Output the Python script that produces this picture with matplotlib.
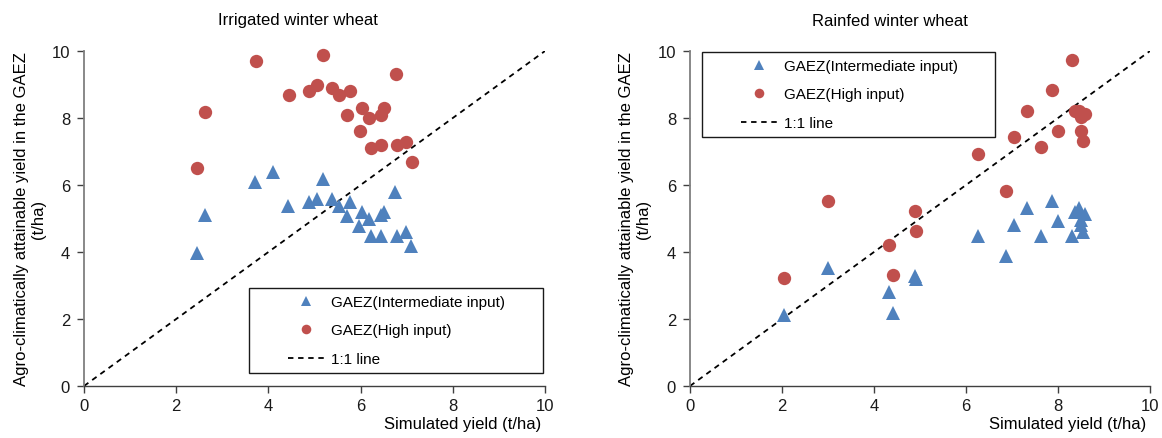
import matplotlib
matplotlib.use('Agg')
import matplotlib.pyplot as plt
from matplotlib.lines import Line2D
from matplotlib.legend_handler import HandlerLine2D

plt.rcParams['font.family'] = ['Liberation Sans', 'DejaVu Sans']

# ---------------- data ----------------
titles = ["Irrigated winter wheat", "Rainfed winter wheat"]
xlabel = "Simulated yield (t/ha)"
ylabel = "Agro-climatically attainable yield in the GAEZ\n(t/ha)"
legend_labels = ["GAEZ(Intermediate input)", "GAEZ(High input)", "1:1 line"]
ticks = [0, 2, 4, 6, 8, 10]

irr_sim_int = [2.46, 2.62, 3.72, 4.11, 4.43, 4.89, 5.05, 5.18, 5.39, 5.54, 5.76, 5.71,
               6.04, 6.19, 5.97, 6.51, 6.45, 6.22, 6.45, 6.75, 6.80, 6.99, 7.09]
irr_gaez_int = [3.98, 5.10, 6.08, 6.38, 5.38, 5.50, 5.58, 6.18, 5.58, 5.38, 5.50, 5.08,
                5.18, 4.99, 4.79, 5.18, 5.10, 4.47, 4.47, 5.80, 4.47, 4.61, 4.19]
irr_sim_high = [2.46, 2.63, 3.73, 4.45, 4.89, 5.05, 5.19, 5.39, 5.54, 5.76, 5.71,
                6.04, 6.19, 6.51, 6.45, 5.99, 6.22, 6.45, 6.77, 6.80, 6.99, 7.11]
irr_gaez_high = [6.50, 8.19, 9.69, 8.69, 8.80, 8.99, 9.89, 8.89, 8.69, 8.80, 8.10,
                 8.30, 7.99, 8.30, 8.09, 7.60, 7.10, 7.19, 9.31, 7.19, 7.29, 6.70]

rf_sim_int = [2.05, 3.00, 4.33, 4.41, 4.89, 4.92, 6.25, 6.86, 7.05, 7.32, 7.63, 7.88,
              7.99, 8.31, 8.37, 8.45, 8.51, 8.59, 8.51, 8.55]
rf_gaez_int = [2.12, 3.52, 2.80, 2.17, 3.28, 3.20, 4.49, 3.89, 4.82, 5.32, 4.49, 5.52,
               4.92, 4.49, 5.20, 5.30, 4.80, 5.12, 4.95, 4.60]
rf_sim_high = [2.05, 3.00, 4.33, 4.41, 4.89, 4.92, 6.25, 6.86, 7.05, 7.32, 7.63, 7.88,
               7.99, 8.31, 8.37, 8.45, 8.51, 8.59, 8.51, 8.55]
rf_gaez_high = [3.22, 5.52, 4.22, 3.30, 5.22, 4.62, 6.92, 5.83, 7.42, 8.22, 7.13, 8.84,
                7.62, 9.72, 8.22, 8.20, 8.02, 8.12, 7.62, 7.32]

one_to_one = [0, 10]

BLUE = '#4F81BD'
RED = '#C0504D'


class RightAlignedHandler(HandlerLine2D):
    def get_xdata(self, legend, xdescent, ydescent, width, height, fontsize):
        x1 = -xdescent + width
        x0 = x1 - 2.4 * fontsize
        return [x0, x1], [0.5 * (x0 + x1)]


fig = plt.figure(figsize=(11.62, 4.39), dpi=100)
ax_l = fig.add_axes([84/1162, 52/439, 461/1162, 335/439])
ax_r = fig.add_axes([690/1162, 52/439, 460/1162, 335/439])

panels = [
    (ax_l, irr_sim_int, irr_gaez_int, irr_sim_high, irr_gaez_high,
     (249/1162, 1 - 289/439, 294/1162), 298/1162, 30/1162, 541/1162),
    (ax_r, rf_sim_int, rf_gaez_int, rf_sim_high, rf_gaez_high,
     (702/1162, 1 - 53/439, 293/1162), 890/1162, 635/1162, 1146/1162),
]

for i, (ax, xi, yi, xh, yh, leg_pos, tx, ylx, xlx) in enumerate(panels):
    h_int, = ax.plot(xi, yi, linestyle='none', marker='^', markersize=9.6,
                     color=BLUE, markeredgewidth=0, clip_on=False, zorder=3)
    h_high, = ax.plot(xh, yh, linestyle='none', marker='o', markersize=9.6,
                      color=RED, markeredgewidth=0, clip_on=False, zorder=3)
    h_line, = ax.plot(one_to_one, one_to_one, color='black', linewidth=1.3,
                      linestyle=(0, (3.0, 2.6)), zorder=2)

    ax.set_xlim(0, 10)
    ax.set_ylim(0, 10)
    ax.set_xticks(ticks)
    ax.set_yticks(ticks)
    ax.spines['top'].set_visible(False)
    ax.spines['right'].set_visible(False)
    ax.spines['left'].set_color('#7f7f7f')
    ax.spines['left'].set_linewidth(1.3)
    ax.spines['bottom'].set_color('#404040')
    ax.spines['bottom'].set_linewidth(1.0)
    ax.tick_params(axis='both', direction='out', length=5, width=1,
                   color='#404040', labelsize=12, labelcolor='#1a1a1a')
    ax.tick_params(axis='x', pad=4)
    ax.tick_params(axis='y', pad=5)

    x0, ytop, w = leg_pos
    ax.legend([h_int, h_high, h_line], legend_labels,
              loc='upper left', bbox_to_anchor=(x0, ytop - 0.01, w, 0.01),
              bbox_transform=fig.transFigure, mode='expand', borderaxespad=0,
              fontsize=11, frameon=True, fancybox=False, framealpha=1,
              edgecolor='#1a1a1a', borderpad=0.45, labelspacing=0.95,
              handlelength=4.5, handletextpad=0.4, numpoints=1,
              markerscale=0.72,
              handler_map={Line2D: RightAlignedHandler()})
    ax.get_legend().get_frame().set_linewidth(1.0)

    fig.text(tx, 1 - 21/439, titles[i], ha='center', va='center', fontsize=12)
    fig.text(ylx, 1 - 219/439, ylabel, rotation=90, ha='center', va='center',
             fontsize=12, multialignment='center', linespacing=1.2)
    fig.text(xlx, 1 - 425/439, xlabel, ha='right', va='center', fontsize=12)

fig.savefig('out.png', dpi=100)
